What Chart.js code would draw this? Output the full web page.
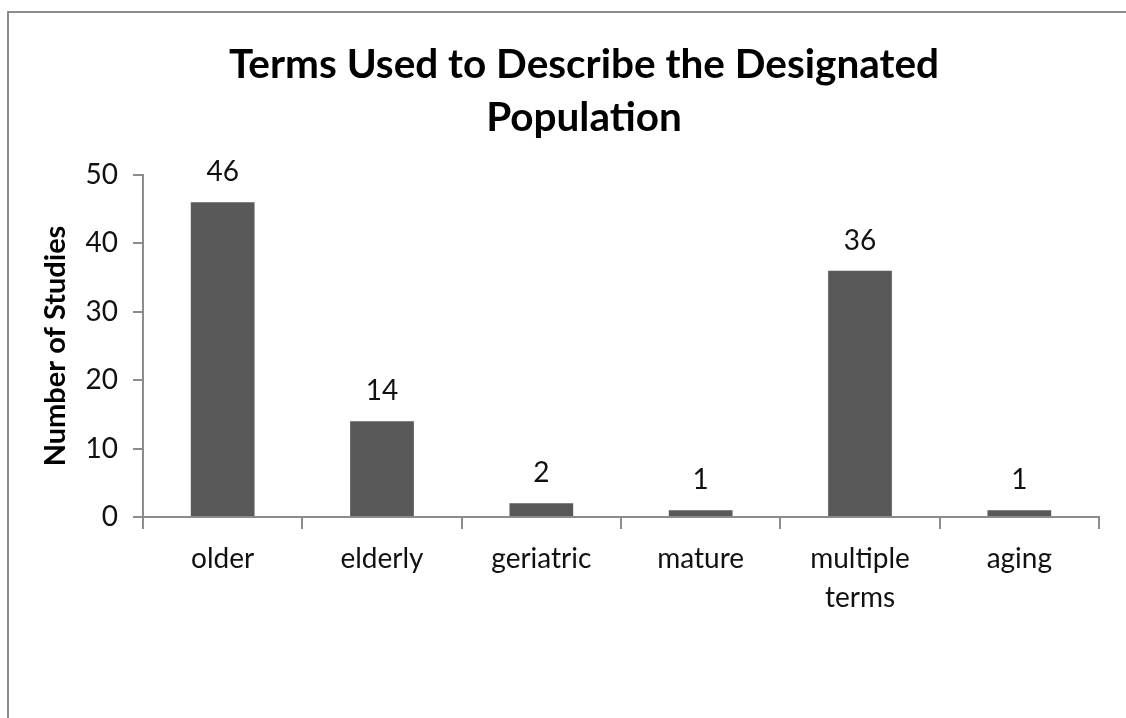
<!DOCTYPE html>
<html>
<head>
<meta charset="utf-8">
<script src="https://cdn.jsdelivr.net/npm/chart.js@4.4.0/dist/chart.umd.min.js"></script>
<style>
  html, body { margin: 0; padding: 0; background: #fff; overflow: hidden; }
  canvas { display: block; }
</style>
</head>
<body>
<canvas id="termsChart"></canvas>
<script>
const terms = ["older", "elderly", "geriatric", "mature", ["multiple", "terms"], "aging"]
const studies = [46, 14, 2, 1, 36, 1]
const yTicks = [0, 10, 20, 30, 40, 50]

const titleLines = ["Terms Used to Describe the Designated", "Population"]
const yTitle = "Number of Studies"

const axisGray = "#8c8c8c"

// outer frame (only top and left edge visible) and the two-line title,
// centred on the frame rather than on the plot
const frameAndTitle = {
    id: "frameAndTitle",
    beforeDraw(chart) {
        const ctx = chart.ctx
        ctx.save()
        ctx.fillStyle = "#fff"
        ctx.fillRect(0, 0, chart.width, chart.height)
        ctx.strokeStyle = axisGray
        ctx.lineWidth = 2
        ctx.beginPath()
        ctx.moveTo(8, chart.height)
        ctx.lineTo(8, 12)
        ctx.lineTo(chart.width, 12)
        ctx.stroke()
        ctx.beginPath() // clear the path so chart.js doesn't stroke it again

        ctx.fillStyle = "#000"
        ctx.font = "bold 40.5px Lato"
        ctx.textAlign = "center"
        ctx.textBaseline = "middle"
        titleLines.forEach(function (line, i) {
            ctx.fillText(line, 584, 65 + i * 53)
        })
        ctx.restore()
    }
}

// numbers over each bar
const barLabels = {
    id: "barLabels",
    afterDatasetsDraw(chart) {
        const ctx = chart.ctx
        const meta = chart.getDatasetMeta(0)
        ctx.save()
        ctx.font = "28px Lato"
        ctx.fillStyle = "#111"
        ctx.textAlign = "center"
        ctx.textBaseline = "middle"
        meta.data.forEach(function (bar, i) {
            ctx.fillText(String(studies[i]), bar.x, bar.y - 30)
        })
        ctx.restore()
    }
}

const data = {
    labels: terms,
    datasets: [{
        data: studies,
        backgroundColor: "#595959",
        borderWidth: 0,
        barPercentage: 0.4,
        categoryPercentage: 1.0
    }]
}

const config = {
    type: "bar",
    data,
    options: {
        responsive: false,
        animation: false,
        layout: {
            padding: { top: 175, left: 0, right: 27, bottom: 0 }
        },
        plugins: {
            legend: { display: false },
            tooltip: { enabled: false },
            title: { display: false }
        },
        scales: {
            x: {
                grid: {
                    display: true,
                    drawOnChartArea: false,
                    drawTicks: true,
                    tickLength: 12,
                    color: axisGray,
                    lineWidth: 2,
                    offset: true
                },
                border: { display: true, color: axisGray, width: 2 },
                ticks: {
                    color: "#111",
                    font: { family: "Lato", size: 28, lineHeight: 1.4 },
                    padding: 10,
                    maxRotation: 0,
                    autoSkip: false
                },
                afterFit(scale) { scale.height = 201 }
            },
            y: {
                min: 0,
                max: 50,
                afterBuildTicks(scale) {
                    scale.ticks = yTicks.map(function (v) { return { value: v } })
                },
                grid: {
                    display: true,
                    drawOnChartArea: false,
                    drawTicks: true,
                    tickLength: 10,
                    color: axisGray,
                    lineWidth: 2
                },
                border: { display: true, color: axisGray, width: 2 },
                ticks: {
                    color: "#111",
                    font: { family: "Lato", size: 28 },
                    padding: 15
                },
                title: {
                    display: true,
                    text: yTitle,
                    color: "#000",
                    font: { family: "Lato", size: 29, weight: "bold", lineHeight: 1.2 },
                    padding: { top: 38, bottom: 0 }
                },
                afterFit(scale) { scale.width = 143 }
            }
        }
    },
    plugins: [frameAndTitle, barLabels]
}

const canvas = document.getElementById("termsChart")
canvas.width = 1126
canvas.height = 718
const myChart = new Chart(canvas, config)
</script>
</body>
</html>
